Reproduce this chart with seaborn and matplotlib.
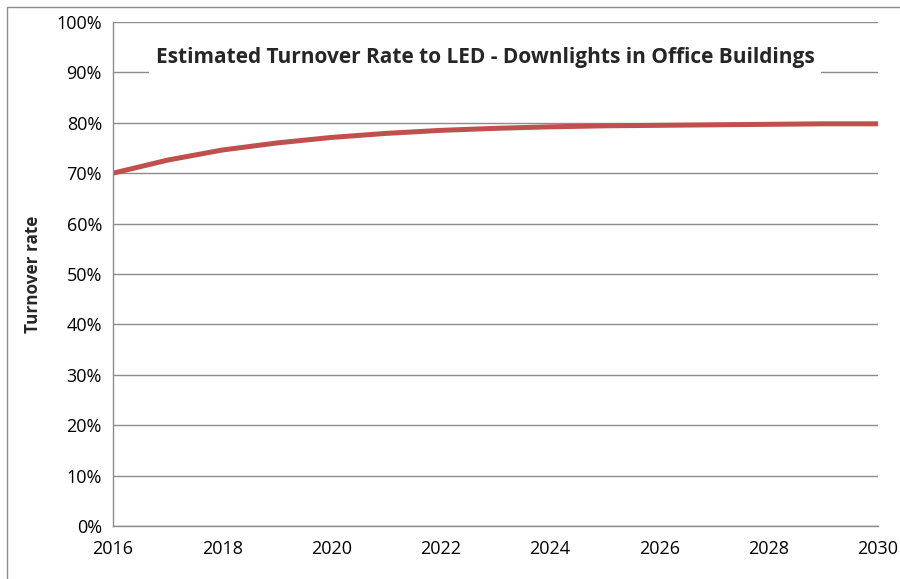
import pandas as pd
import matplotlib
matplotlib.use('Agg')
import matplotlib.pyplot as plt
import seaborn as sns
from matplotlib.ticker import PercentFormatter, MultipleLocator
from matplotlib.patches import Rectangle

# values (percent)
years = [2016, 2017, 2018, 2019, 2020, 2021, 2022, 2023,
         2024, 2025, 2026, 2027, 2028, 2029, 2030]
turnover = [70.0, 72.6, 74.6, 76.0, 77.1, 77.9, 78.5, 78.9,
            79.2, 79.4, 79.5, 79.6, 79.7, 79.8, 79.8]
title = 'Estimated Turnover Rate to LED - Downlights in Office Buildings'
ylabel = 'Turnover rate'

sns.set_style('white')
plt.rcParams['font.family'] = ['Open Sans', 'DejaVu Sans']

grey = '#8c8c8c'
df = pd.DataFrame({'year': years, 'rate': turnover})

fig = plt.figure(figsize=(9, 5.79), dpi=100)
ax = fig.add_axes([113 / 900, 1 - 526 / 579, 765 / 900, 504 / 579])

sns.lineplot(data=df, x='year', y='rate', ax=ax, color='#C0504D',
             linewidth=3.6, solid_capstyle='butt', solid_joinstyle='round')

ax.set_xlim(2016, 2030)
ax.set_ylim(0, 100)
ax.yaxis.set_major_locator(MultipleLocator(10))
ax.yaxis.set_major_formatter(PercentFormatter(decimals=0))
ax.xaxis.set_major_locator(MultipleLocator(2))
ax.xaxis.set_minor_locator(MultipleLocator(1))
ax.grid(axis='y', color=grey, linewidth=1)
ax.set_axisbelow(True)

for s in ['top', 'right']:
    ax.spines[s].set_visible(False)
for s in ['left', 'bottom']:
    ax.spines[s].set_color(grey)
    ax.spines[s].set_linewidth(1)

ax.tick_params(axis='both', which='both', direction='out', color=grey,
               length=5, width=1, labelsize=13, colors='black')
ax.tick_params(axis='x', which='minor', length=5, color=grey)
ax.tick_params(axis='x', which='major', pad=5)
ax.tick_params(axis='y', pad=3)
for t in ax.get_xticklabels() + ax.get_yticklabels():
    t.set_color('black')

ax.set_xlabel('')
ax.set_ylabel(ylabel, fontsize=12.3, fontweight='bold', labelpad=10)

# title sits inside the plot on a white box that hides the 90% gridline
ax.text(485 / 900, (579 - 57) / 579, title, transform=fig.transFigure,
        ha='center', va='center', fontsize=15, fontweight='bold',
        bbox=dict(facecolor='white', edgecolor='none', pad=5))

# outer chart border (cut off on right and bottom)
fig.patches.append(Rectangle((7 / 900, -0.1), 1.2, 1 - 7 / 579 + 0.1,
                             transform=fig.transFigure, fill=False,
                             edgecolor=grey, linewidth=1))

fig.savefig('out.png', dpi=100)
